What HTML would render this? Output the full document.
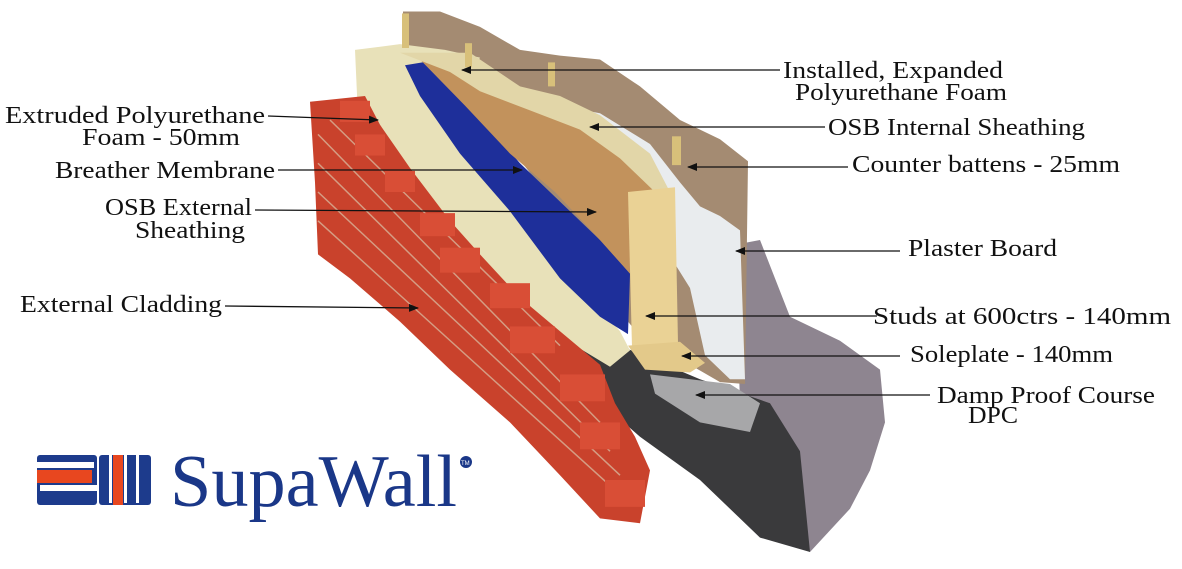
<!DOCTYPE html>
<html><head><meta charset="utf-8"><style>
html,body{margin:0;padding:0;background:#fff}
svg{display:block}
text{font-family:"Liberation Serif",serif;fill:#111}
</style></head><body>
<svg width="1182" height="569" viewBox="0 0 1182 569" xmlns="http://www.w3.org/2000/svg">
<defs>
<marker id="ah" markerWidth="10" markerHeight="8" refX="9" refY="4" orient="auto" markerUnits="userSpaceOnUse">
<path d="M0 0 L10 4 L0 8 Z" fill="#111"/>
</marker>
</defs>
<g transform="scale(1,0.96)">
<!-- concrete -->
<path d="M735 255 L760 250 L775 290 L790 330 L840 355 L880 385 L885 440 L870 490 L850 530 L810 575 L770 540 L760 470 L740 420 Z" fill="#8e8590"/>
<!-- plasterboard -->
<path d="M403 12 L440 12 L480 28 L520 52 L560 58 L600 62 L640 90 L680 125 L720 145 L748 168 L745 400 L720 398 L690 380 L640 350 L600 300 L560 220 L500 140 L430 90 L403 60 Z" fill="#a48b72"/>
<path d="M560 110 L600 118 L650 150 L680 190 L700 215 L720 225 L740 240 L745 395 L730 395 L705 370 L690 300 L660 250 L620 200 L580 150 Z" fill="#e9ecee"/>
<!-- dark block wall -->
<path d="M560 340 L620 360 L700 395 L770 420 L800 470 L810 575 L760 560 L700 500 L640 455 L580 400 Z" fill="#3a3a3c"/>
<path d="M650 390 L730 400 L760 420 L750 450 L700 440 L655 410 Z" fill="#a7a7a9"/>
<!-- foam -->
<path d="M355 52 L400 46 L445 52 L480 60 L470 80 L440 110 L460 160 L520 220 L560 280 L600 320 L620 345 L630 365 L610 382 L575 360 L520 330 L450 290 L400 250 L362 215 Z" fill="#e8e1b9"/>
<path d="M405 68 L440 62 L470 110 L520 170 L560 210 L600 250 L630 285 L628 348 L600 330 L560 290 L510 220 L460 160 L420 100 Z" fill="#1e2f9a"/>
<path d="M420 62 L470 60 L520 100 L580 120 L620 150 L650 175 L670 200 L630 205 L630 285 L600 250 L555 200 L510 160 L465 110 Z" fill="#c2925c"/>
<path d="M400 55 L470 55 L520 90 L560 100 L600 120 L650 160 L670 200 L655 200 L620 165 L580 135 L530 115 L480 95 L450 75 Z" fill="#e2d6a8"/>
<!-- stud -->
<path d="M628 200 L675 195 L678 358 L632 362 Z" fill="#ead295"/>
<path d="M628 360 L680 356 L705 378 L690 388 L645 385 Z" fill="#e3c98a"/>
<rect x="402" y="14" width="7" height="36" fill="#d8c07a"/>
<rect x="465" y="45" width="7" height="25" fill="#d8c07a"/>
<rect x="548" y="65" width="7" height="25" fill="#d8c07a"/>
<rect x="672" y="142" width="9" height="30" fill="#d8c07a"/>
<!-- bricks -->
<path d="M310 106 L365 100 L380 130 L410 175 L450 230 L480 265 L520 310 L560 345 L600 380 L615 420 L635 455 L650 490 L640 545 L600 540 L560 495 L510 440 L450 385 L400 335 L350 290 L318 265 L315 190 Z" fill="#c9422c"/>
<g stroke="#d8b49a" stroke-width="1.5" fill="none" opacity="0.8">
<path d="M318 140 L600 440"/><path d="M318 170 L610 470"/><path d="M318 200 L620 495"/><path d="M318 230 L625 520"/><path d="M330 125 L560 360"/>
</g>
<g fill="#d94e36">
<rect x="340" y="105" width="30" height="22"/><rect x="355" y="140" width="30" height="22"/><rect x="385" y="178" width="30" height="22"/><rect x="420" y="222" width="35" height="24"/><rect x="440" y="258" width="40" height="26"/><rect x="490" y="295" width="40" height="26"/><rect x="510" y="340" width="45" height="28"/><rect x="560" y="390" width="45" height="28"/><rect x="580" y="440" width="40" height="28"/><rect x="605" y="500" width="40" height="28"/>
</g>
</g>
<!-- leader lines -->
<g stroke="#111" stroke-width="1.3" marker-end="url(#ah)">
<line x1="268" y1="116" x2="378" y2="120"/>
<line x1="278" y1="170" x2="522" y2="170"/>
<line x1="255" y1="210" x2="596" y2="212"/>
<line x1="225" y1="306" x2="418" y2="308"/>
<line x1="780" y1="70" x2="462" y2="70"/>
<line x1="825" y1="127" x2="590" y2="127"/>
<line x1="848" y1="167" x2="688" y2="167"/>
<line x1="900" y1="251" x2="736" y2="251"/>
<line x1="877" y1="316" x2="646" y2="316"/>
<line x1="900" y1="356" x2="682" y2="356"/>
<line x1="930" y1="395" x2="696" y2="395"/>
</g>
<!-- labels -->
<g font-size="24">
<text x="5" y="123" textLength="260" lengthAdjust="spacingAndGlyphs">Extruded Polyurethane</text>
<text x="82" y="145" textLength="158" lengthAdjust="spacingAndGlyphs">Foam - 50mm</text>
<text x="55" y="178" textLength="220" lengthAdjust="spacingAndGlyphs">Breather Membrane</text>
<text x="105" y="215" textLength="147" lengthAdjust="spacingAndGlyphs">OSB External</text>
<text x="135" y="238" textLength="110" lengthAdjust="spacingAndGlyphs">Sheathing</text>
<text x="20" y="312" textLength="202" lengthAdjust="spacingAndGlyphs">External Cladding</text>
<text x="783" y="78" textLength="220" lengthAdjust="spacingAndGlyphs">Installed, Expanded</text>
<text x="795" y="100" textLength="212" lengthAdjust="spacingAndGlyphs">Polyurethane Foam</text>
<text x="828" y="135" textLength="257" lengthAdjust="spacingAndGlyphs">OSB Internal Sheathing</text>
<text x="852" y="172" textLength="268" lengthAdjust="spacingAndGlyphs">Counter battens - 25mm</text>
<text x="908" y="256" textLength="149" lengthAdjust="spacingAndGlyphs">Plaster Board</text>
<text x="873" y="324" textLength="298" lengthAdjust="spacingAndGlyphs">Studs at 600ctrs - 140mm</text>
<text x="910" y="362" textLength="203" lengthAdjust="spacingAndGlyphs">Soleplate - 140mm</text>
<text x="937" y="403" textLength="218" lengthAdjust="spacingAndGlyphs">Damp Proof Course</text>
<text x="968" y="423" textLength="50" lengthAdjust="spacingAndGlyphs">DPC</text>
</g>
<!-- logo -->
<rect x="37" y="455" width="60" height="50" rx="3" fill="#1d3b8c"/>
<rect x="37" y="470" width="55" height="13" fill="#e8471f"/>
<rect x="37" y="462" width="57" height="6" fill="#fff"/>
<rect x="40" y="485" width="57" height="6" fill="#fff"/>
<rect x="99" y="455" width="52" height="50" rx="3" fill="#1d3b8c"/>
<rect x="113" y="455" width="10" height="50" fill="#e8471f"/>
<rect x="109" y="455" width="3" height="48" fill="#fff"/><rect x="124" y="455" width="3" height="48" fill="#fff"/><rect x="136" y="455" width="3" height="48" fill="#fff"/>
<text x="170" y="506" font-size="74" textLength="287" lengthAdjust="spacingAndGlyphs" style="fill:#1a3788">SupaWall</text>
<circle cx="466" cy="462" r="6" fill="#1a3788"/>
<text x="461" y="465" font-size="6" style="fill:#fff;font-family:'Liberation Sans',sans-serif">TM</text>
</svg>
</body></html>
